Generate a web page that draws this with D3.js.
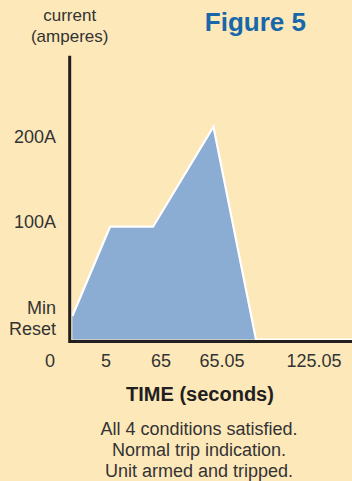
<!DOCTYPE html>
<html>
<head>
<meta charset="utf-8">
<script src="https://cdn.jsdelivr.net/npm/d3@7/dist/d3.min.js"></script>
<style>
  html, body { margin: 0; padding: 0; background: #fde8b9; }
  svg { display: block; }
  text { font-family: "Liberation Sans", Arial, Helvetica, sans-serif; }
</style>
</head>
<body>
<svg id="chart" width="352" height="481"></svg>
<script>
// Time marks shown along the bottom (seconds) and their labels
const timeTicks = [0, 5, 65, 65.05, 125.05];
const timeTickLabels = ["0", "5", "65", "65.05", "125.05"];

// Current levels marked on the vertical axis (amperes)
const currentTicks = [20, 100, 200];
const currentTickLabels = [["Min", "Reset"], ["100A"], ["200A"]];

// Current profile over time: ramp to 100A, hold, surge past 200A, trip to zero
const profileTime    = [2, 9.4, 56.3, 65.043, 87.2, 150];
const profileCurrent = [20, 100, 100, 217, 0, 0];

const captionLines = [
  "All 4 conditions satisfied.",
  "Normal trip indication.",
  "Unit armed and tripped."
];

const W = 352, H = 481;
const axisX = 69.7, axisTop = 55.7;
const svg = d3.select("#chart");

svg.append("rect").attr("width", W).attr("height", H).attr("fill", "#fde8b9");

// The time axis is schematic: each interval gets its own share of width
const x = d3.scaleLinear()
  .domain(timeTicks)
  .range([50, 106, 161, 222, 314]);

// Current axis is schematic too, piecewise between the marked levels
const y = d3.scaleLinear()
  .domain([0, 20, 100, 200])
  .range([339.5, 316, 226.7, 141.2]);

const data = profileTime.map((t, i) => ({ t, a: profileCurrent[i] }));

// Filled current profile
const area = d3.area()
  .x(d => x(d.t))
  .y0(y(0))
  .y1(d => y(d.a));

svg.append("path")
  .datum(data)
  .attr("d", area)
  .attr("fill", "#8badd4");

// White outline on the profile's upper edge
const line = d3.line()
  .x(d => x(d.t))
  .y(d => y(d.a));

svg.append("path")
  .datum(data)
  .attr("d", line)
  .attr("fill", "none")
  .attr("stroke", "#ffffff")
  .attr("stroke-width", 2.2)
  .attr("stroke-linejoin", "miter");

// Axes
svg.append("path")
  .attr("d", `M${axisX},${axisTop} V${y(0) + 3.5} M${axisX - 1.5},${y(0) + 2} H${W}`)
  .attr("fill", "none")
  .attr("stroke", "#231f20")
  .attr("stroke-width", 3);

// Vertical axis labels
const yLab = svg.append("g")
  .attr("fill", "#333333")
  .attr("font-size", 18)
  .attr("text-anchor", "end");

currentTicks.forEach((v, i) => {
  const lines = currentTickLabels[i];
  const base = lines.length === 1 ? y(v) + 1.5 : y(v) - 2;
  lines.forEach((s, j) => {
    yLab.append("text")
      .attr("x", 56)
      .attr("y", base + j * 21)
      .text(s);
  });
});

// Vertical axis title
const yTitle = svg.append("g")
  .attr("fill", "#333333")
  .attr("font-size", 17)
  .attr("text-anchor", "middle");
yTitle.append("text").attr("x", axisX).attr("y", 21).text("current");
yTitle.append("text").attr("x", axisX).attr("y", 42).text("(amperes)");

// Time labels
svg.append("g")
  .attr("fill", "#333333")
  .attr("font-size", 18)
  .attr("text-anchor", "middle")
  .selectAll("text")
  .data(timeTicks)
  .join("text")
  .attr("x", d => x(d))
  .attr("y", 367)
  .text((d, i) => timeTickLabels[i]);

// Time axis title
svg.append("text")
  .attr("x", 200)
  .attr("y", 401)
  .attr("text-anchor", "middle")
  .attr("font-size", 20)
  .attr("font-weight", "bold")
  .attr("fill", "#231f20")
  .text("TIME (seconds)");

// Figure heading
svg.append("text")
  .attr("x", 306)
  .attr("y", 31)
  .attr("text-anchor", "end")
  .attr("font-size", 26)
  .attr("font-weight", "bold")
  .attr("fill", "#1767aa")
  .text("Figure 5");

// Caption
svg.append("g")
  .attr("fill", "#333333")
  .attr("font-size", 18)
  .attr("text-anchor", "middle")
  .selectAll("text")
  .data(captionLines)
  .join("text")
  .attr("x", 199)
  .attr("y", (d, i) => 435 + i * 21)
  .text(d => d);
</script>
</body>
</html>
